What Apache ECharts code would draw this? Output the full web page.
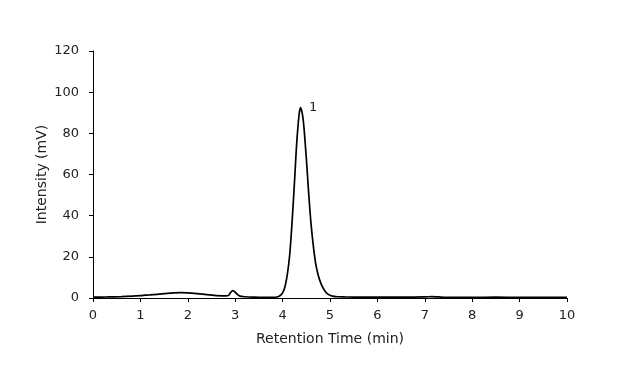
<!DOCTYPE html>
<html>
<head>
<meta charset="utf-8">
<script src="https://cdn.jsdelivr.net/npm/echarts@6/dist/echarts.min.js"></script>
<style>html,body{margin:0;padding:0;background:#fff;}#c{width:620px;height:383px;}</style>
</head>
<body>
<div id="c"></div>
<script>
var times = [0,0.3,0.6,0.9,1.2,1.5,1.7,1.85,2.0,2.2,2.4,2.6,2.8,2.86,2.9,2.95,3.0,3.05,3.1,3.2,3.4,3.6,3.8,3.9,3.95,4.0,4.05,4.1,4.15,4.2,4.25,4.3,4.35,4.38,4.42,4.45,4.5,4.55,4.6,4.65,4.7,4.75,4.8,4.85,4.9,4.95,5.0,5.05,5.15,5.3,5.6,6.0,6.5,7.0,7.15,7.3,7.6,8.0,8.5,9.0,9.5,10.0];
var intensity = [0.4,0.5,0.7,1.0,1.5,2.1,2.5,2.6,2.5,2.1,1.6,1.2,1.0,1.3,2.6,3.6,2.8,1.6,0.9,0.6,0.4,0.3,0.3,0.6,1.2,2.5,5.5,11.5,21,37,56,76,89.5,92.5,89,83,68,51,36,25,16.5,11.2,7.6,5.0,3.2,2.0,1.3,0.9,0.6,0.5,0.4,0.4,0.4,0.5,0.7,0.5,0.3,0.3,0.4,0.3,0.3,0.3];
var xTicks = [0,1,2,3,4,5,6,7,8,9,10];
var yTicks = [0,20,40,60,80,100,120];
var peakLabel = '1';
var peakTime = 4.38;
var peakValue = 92.5;

var font = 'DejaVu Sans, Verdana, sans-serif';
var data = times.map(function(t,i){ return [t,intensity[i]]; });
var chart = echarts.init(document.getElementById('c'));
chart.setOption({
  animation:false,
  grid:{left:93,right:53,top:51,bottom:85},
  xAxis:{type:'value',min:xTicks[0],max:xTicks[xTicks.length-1],interval:1,
    name:'Retention Time (min)',nameLocation:'middle',nameGap:34,nameMoveOverlap:false,
    nameTextStyle:{color:'#222',fontFamily:font,fontSize:14},
    axisLine:{lineStyle:{color:'#000',width:1}},
    axisTick:{show:true,length:4,lineStyle:{color:'#000'}},
    axisLabel:{color:'#222',fontFamily:font,fontSize:13,margin:11},
    splitLine:{show:false}},
  yAxis:{type:'value',min:yTicks[0],max:yTicks[yTicks.length-1],interval:20,
    name:'Intensity (mV)',nameLocation:'middle',nameGap:44,nameRotate:90,nameMoveOverlap:false,
    nameTextStyle:{color:'#222',fontFamily:font,fontSize:14},
    axisLine:{show:true,lineStyle:{color:'#000',width:1}},
    axisTick:{show:true,length:4,lineStyle:{color:'#000'}},
    axisLabel:{color:'#222',fontFamily:font,fontSize:13,margin:14},
    splitLine:{show:false}},
  series:[{type:'line',data:data,showSymbol:false,symbol:'none',smooth:0.3,
    lineStyle:{color:'#000',width:1.7},
    markPoint:{symbol:'circle',symbolSize:1,itemStyle:{color:'rgba(0,0,0,0)'},
      data:[{coord:[peakTime,peakValue],value:peakLabel}],
      label:{show:true,formatter:peakLabel,position:'right',distance:8,offset:[0,0],
        color:'#222',fontFamily:font,fontSize:13}}}]
});
</script>
</body>
</html>
